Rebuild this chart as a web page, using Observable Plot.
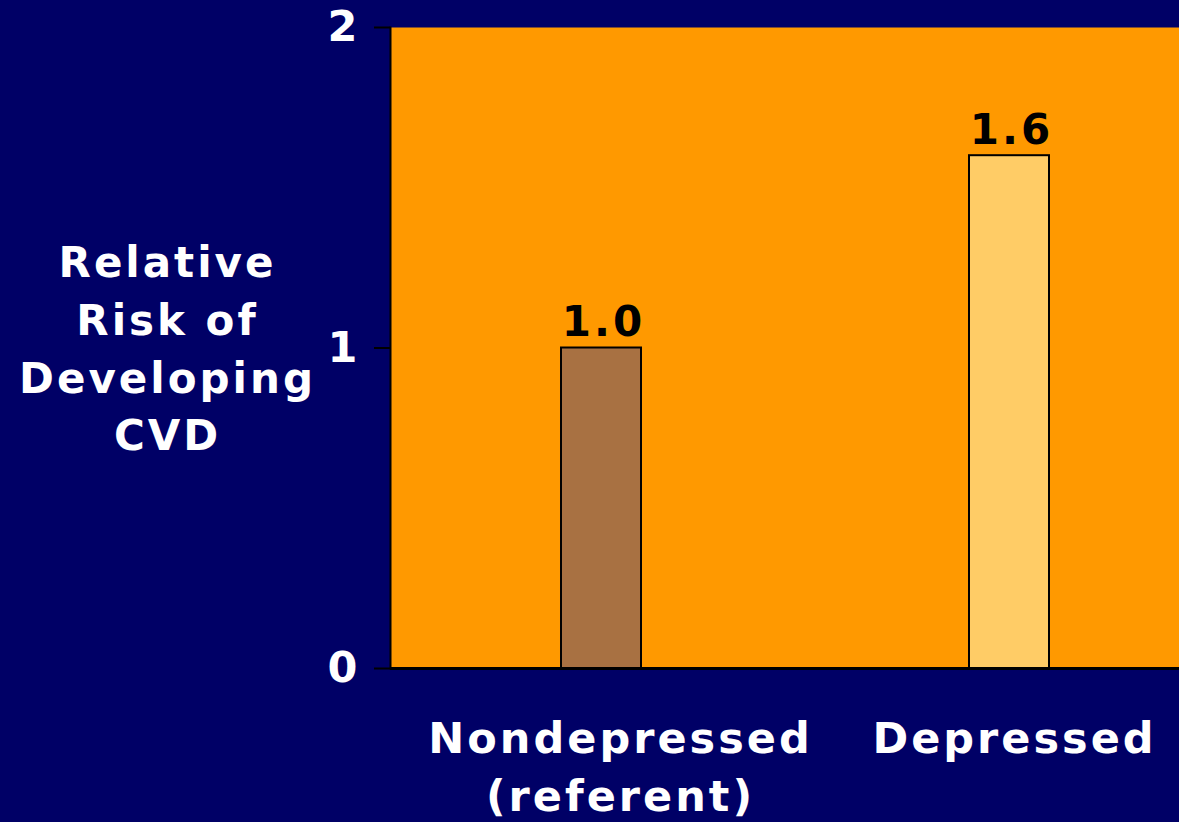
<!DOCTYPE html>
<html>
<head>
<meta charset="utf-8">
<script src="https://cdn.jsdelivr.net/npm/d3@7"></script>
<script src="https://cdn.jsdelivr.net/npm/@observablehq/plot@0.6"></script>
<style>
  html, body { margin: 0; padding: 0; background: #000066; }
  #chart { width: 1179px; height: 822px; overflow: hidden; }
  #chart svg text { letter-spacing: 3px; }
</style>
</head>
<body>
<div id="chart"></div>
<script>
const categories = ["Nondepressed", "Depressed"];
const values = [1.0, 1.6];
const valueLabels = ["1.0", "1.6"];
const categoryLabels = ["Nondepressed\n(referent)", "Depressed"];
const barColors = ["#A87142", "#FFCC66"];
const yTicks = [0, 1, 2];
const yTitle = "Relative\nRisk of\nDeveloping\nCVD";

const data = categories.map((c, i) => ({cat: c, value: values[i], label: valueLabels[i], color: barColors[i], xlabel: categoryLabels[i]}));

const chart = Plot.plot({
  width: 1179,
  height: 822,
  marginLeft: 390,
  marginRight: 0,
  marginTop: 27,
  marginBottom: 154,
  style: {background: "#000066", color: "white", fontFamily: "DejaVu Sans, Verdana, sans-serif", fontWeight: "bold", fontSize: "42px", overflow: "visible"},
  x: {domain: categories, range: [390, 1220], paddingInner: 0.804, paddingOuter: 0.419, axis: null},
  y: {domain: [0, 2], axis: null},
  marks: [
    Plot.frame({fill: "#FF9900"}),
    Plot.barY(data, {x: "cat", y: "value", fill: "color", stroke: "black", strokeWidth: 2}),
    Plot.text(data, {x: "cat", y: "value", text: "label", fill: "black", fontSize: 42, fontWeight: "bold", lineAnchor: "bottom", dy: -12, dx: 2}),
    Plot.frame({anchor: "left", stroke: "black", strokeWidth: 2}),
    Plot.axisY({ticks: yTicks, tickSize: 16, tickPadding: 14, stroke: "black", strokeWidth: 2, fill: "white", fontSize: 43, fontWeight: "bold", label: null, tickFormat: d => String(d)}),
    Plot.ruleY([0], {stroke: "black", strokeWidth: 3}),
    Plot.text([data[0]], {x: "cat", text: "xlabel", frameAnchor: "bottom", lineAnchor: "top", dy: 43, dx: 19, fill: "white", fontSize: 43, fontWeight: "bold", lineHeight: 1.35}),
    Plot.text([data[1]], {x: "cat", text: "xlabel", frameAnchor: "bottom", lineAnchor: "top", dy: 43, dx: 5, fill: "white", fontSize: 43, fontWeight: "bold", lineHeight: 1.35}),
    Plot.text([yTitle], {frameAnchor: "left", dx: -223, dy: -3, textAnchor: "middle", fill: "white", fontSize: 42, fontWeight: "bold", lineHeight: 1.38})
  ]
});
document.getElementById("chart").appendChild(chart);
</script>
</body>
</html>
